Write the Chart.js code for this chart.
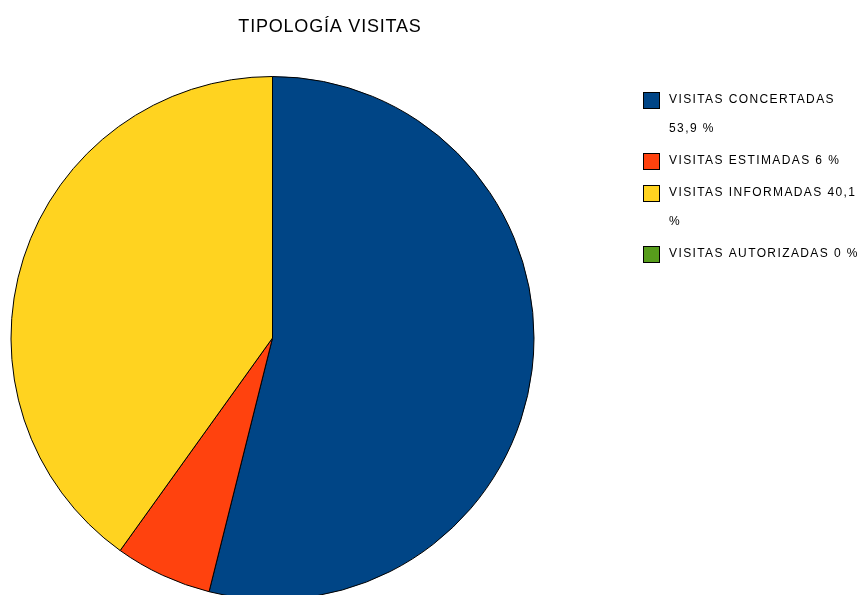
<!DOCTYPE html>
<html lang="es">
<head>
  <meta charset="UTF-8">
  <title>Tipología visitas</title>
  <script src="https://cdn.jsdelivr.net/npm/chart.js@4"></script>
  <style>
    html, body { margin: 0; padding: 0; background: #fff; overflow: hidden; }
    #wrap { width: 861px; height: 595px; overflow: hidden; }
  </style>
</head>
<body>
  <div id="wrap"><canvas id="tipologia" width="861" height="620"></canvas></div>

  <script>
    // data
    const titleText = "TIPOLOGÍA VISITAS";
    const categories = ["VISITAS CONCERTADAS", "VISITAS ESTIMADAS", "VISITAS INFORMADAS", "VISITAS AUTORIZADAS"];
    const percents = [53.9, 6, 40.1, 0];
    // legend lines as they wrap in the original
    const legendLines = [
      ["VISITAS CONCERTADAS", "53,9 %"],
      ["VISITAS ESTIMADAS 6 %"],
      ["VISITAS INFORMADAS 40,1", "%"],
      ["VISITAS AUTORIZADAS 0 %"]
    ];
    const colors = ["#004586", "#ff420e", "#ffd320", "#579d1c"];

    // title + legend drawn by hand, the legend wraps lines
    const sidePlugin = {
      id: "sideBits",
      afterDraw(chart) {
        const ctx = chart.ctx;
        ctx.save();
        ctx.fillStyle = "#000";
        ctx.textBaseline = "middle";
        ctx.textAlign = "center";
        ctx.font = "18px 'Liberation Sans', Arial, sans-serif";
        ctx.letterSpacing = "0.8px";
        ctx.fillText(titleText, 330, 27);

        ctx.textAlign = "left";
        ctx.font = "12px 'Liberation Sans', Arial, sans-serif";
        ctx.letterSpacing = "1.4px";
        let y = 100;
        legendLines.forEach((lines, i) => {
          ctx.fillStyle = colors[i];
          ctx.fillRect(643, y - 8, 17, 17);
          ctx.strokeStyle = "#000";
          ctx.lineWidth = 1;
          ctx.strokeRect(643.5, y - 7.5, 16, 16);
          ctx.fillStyle = "#000";
          lines.forEach((t, j) => {
            ctx.fillText(t, 669, y + j * 29);
          });
          y += 29 * (lines.length - 1) + 32;
        });
        ctx.restore();
      }
    };

    new Chart(document.getElementById("tipologia"), {
      type: "pie",
      data: {
        labels: categories,
        datasets: [{
          data: percents,
          backgroundColor: colors,
          borderColor: "#000",
          borderWidth: 1
        }]
      },
      options: {
        responsive: false,
        animation: false,
        layout: { padding: { left: 10, right: 326, top: 76, bottom: 20 } },
        plugins: {
          legend: { display: false },
          title: { display: false },
          tooltip: { enabled: false }
        }
      },
      plugins: [sidePlugin]
    });
  </script>
</body>
</html>
